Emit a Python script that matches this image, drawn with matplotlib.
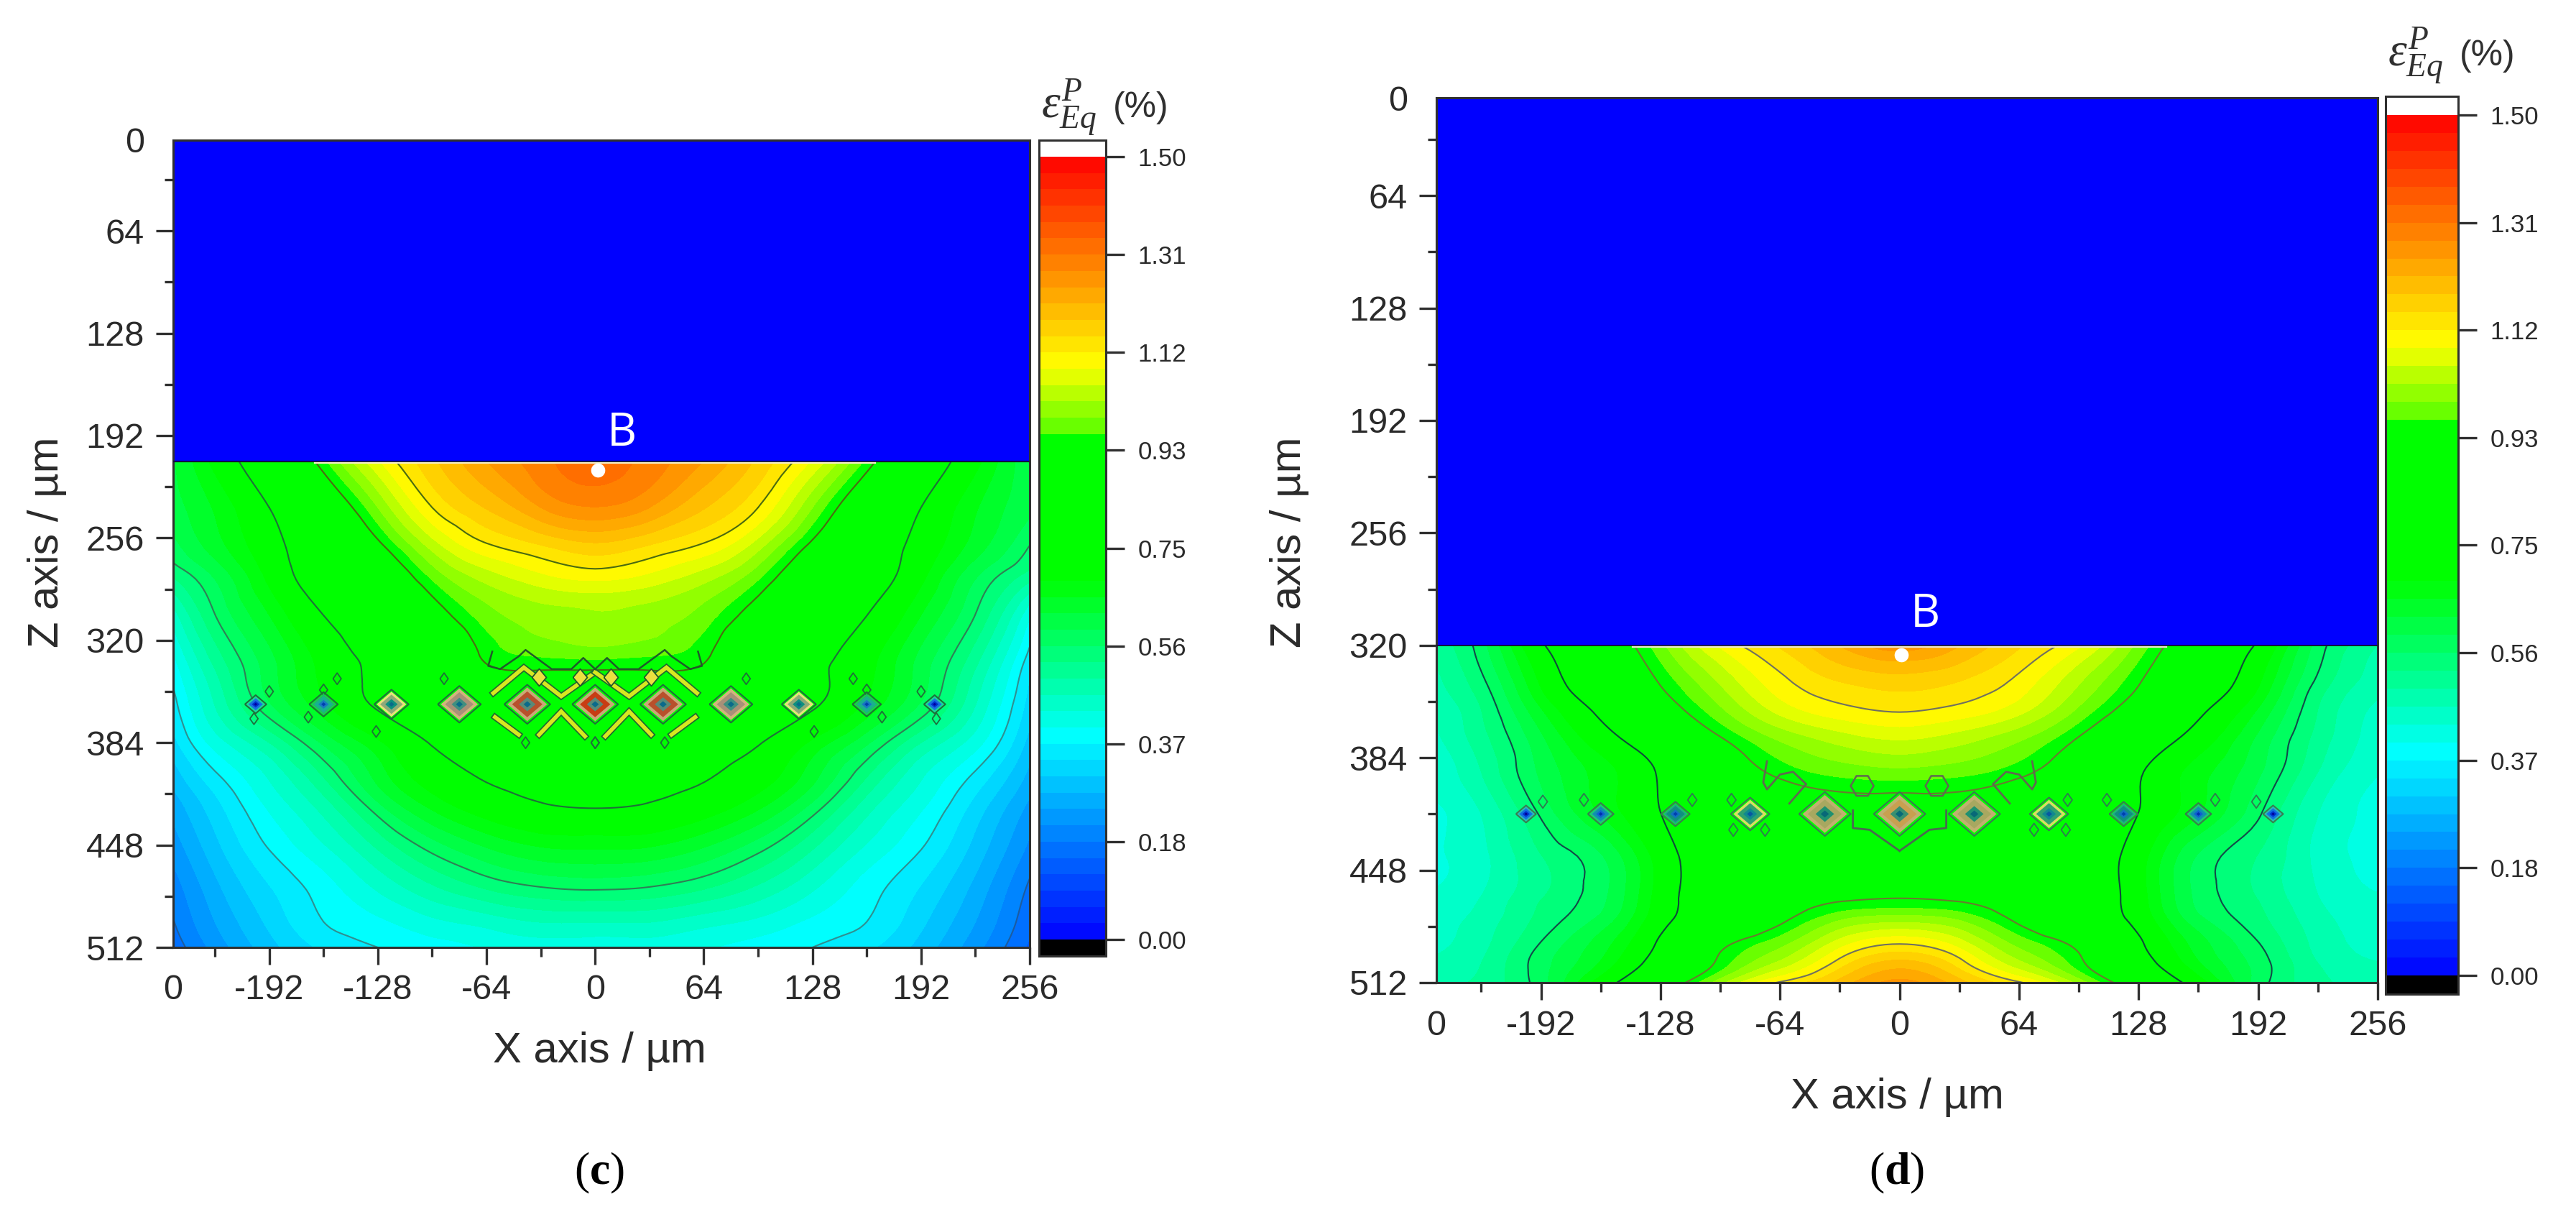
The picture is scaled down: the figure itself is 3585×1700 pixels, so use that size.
import numpy as np
import matplotlib
matplotlib.use("Agg")
import matplotlib.pyplot as plt
import matplotlib.tri as mtri
import matplotlib.patheffects as pe
from matplotlib.cm import ScalarMappable
from matplotlib.colors import BoundaryNorm, ListedColormap

plt.rcParams['font.family'] = ['Liberation Sans', 'DejaVu Sans']
plt.rcParams['mathtext.fontset'] = 'custom'
plt.rcParams['mathtext.rm'] = 'Liberation Serif'
plt.rcParams['mathtext.it'] = 'Liberation Serif:italic'
plt.rcParams['mathtext.bf'] = 'Liberation Serif:bold'

W, H = 3585, 1700
DPI = 100
PT = DPI / 72.0

# values, half profile, the field is mirror symmetric
x_cols = [0, 32, 64, 96, 128, 160, 192, 224, 256]

c_rows = [208, 237, 262, 279, 302, 327, 338, 360, 384, 406, 425, 451, 476, 496, 512]
c_field = [
    [1.33, 1.30, 1.25, 1.18, 1.09, 0.96, 0.82, 0.70, 0.60],
    [1.28, 1.25, 1.19, 1.125, 1.00, 0.87, 0.75, 0.66, 0.60],
    [1.175, 1.15, 1.115, 1.04, 0.92, 0.82, 0.72, 0.64, 0.56],
    [1.11, 1.09, 1.05, 0.98, 0.87, 0.80, 0.70, 0.60, 0.52],
    [1.03, 1.02, 0.99, 0.91, 0.82, 0.755, 0.66, 0.565, 0.42],
    [0.99, 0.98, 0.95, 0.85, 0.78, 0.71, 0.62, 0.52, 0.37],
    [0.94, 0.94, 0.93, 0.85, 0.77, 0.70, 0.61, 0.50, 0.35],
    [0.90, 0.89, 0.87, 0.82, 0.76, 0.68, 0.59, 0.47, 0.33],
    [0.88, 0.85, 0.80, 0.755, 0.68, 0.60, 0.50, 0.42, 0.30],
    [0.82, 0.79, 0.755, 0.71, 0.635, 0.53, 0.44, 0.365, 0.27],
    [0.75, 0.74, 0.71, 0.66, 0.58, 0.48, 0.41, 0.33, 0.24],
    [0.655, 0.65, 0.62, 0.57, 0.50, 0.43, 0.375, 0.30, 0.21],
    [0.5625, 0.555, 0.53, 0.49, 0.44, 0.39, 0.34, 0.27, 0.18],
    [0.47, 0.47, 0.45, 0.43, 0.40, 0.375, 0.32, 0.25, 0.165],
    [0.42, 0.42, 0.41, 0.39, 0.375, 0.35, 0.30, 0.23, 0.15],
]

d_rows = [320, 343, 358, 372, 392, 415, 440, 464, 475, 490, 501, 512]
d_field = [
    [1.27, 1.22, 1.16, 1.10, 0.99, 0.87, 0.74, 0.58, 0.50],
    [1.165, 1.15, 1.11, 1.03, 0.9375, 0.82, 0.69, 0.55, 0.48],
    [1.125, 1.11, 1.07, 0.99, 0.89, 0.765, 0.65, 0.53, 0.46],
    [1.07, 1.05, 1.01, 0.9375, 0.83, 0.72, 0.62, 0.52, 0.45],
    [0.99, 0.98, 0.95, 0.88, 0.76, 0.67, 0.60, 0.50, 0.44],
    [0.90, 0.90, 0.88, 0.85, 0.75, 0.66, 0.57, 0.47, 0.43],
    [0.88, 0.88, 0.87, 0.82, 0.71, 0.59, 0.53, 0.46, 0.43],
    [0.9375, 0.93, 0.90, 0.82, 0.71, 0.585, 0.53, 0.47, 0.44],
    [1.01, 0.99, 0.92, 0.83, 0.72, 0.60, 0.54, 0.48, 0.45],
    [1.125, 1.08, 0.99, 0.92, 0.765, 0.64, 0.565, 0.49, 0.46],
    [1.20, 1.14, 1.04, 0.95, 0.80, 0.66, 0.58, 0.50, 0.47],
    [1.26, 1.20, 1.13, 1.02, 0.87, 0.71, 0.58, 0.51, 0.48],
]

x_major = [-192, -128, -64, 0, 64, 128, 192, 256]
x_minor = [-224, -160, -96, -32, 32, 96, 160, 224]
x_labels = ['-192', '-128', '-64', '0', '64', '128', '192', '256']
z_major = [64, 128, 192, 256, 320, 384, 448, 512]
z_minor = [32, 96, 160, 224, 288, 352, 416, 480]
z_labels = ['64', '128', '192', '256', '320', '384', '448', '512']
cb_ticks = [0.0, 0.1875, 0.375, 0.5625, 0.75, 0.9375, 1.125, 1.3125, 1.5]
cb_labels = ['0.00', '0.18', '0.37', '0.56', '0.75', '0.93', '1.12', '1.31', '1.50']
line_levels = [0.1875, 0.375, 0.5625, 0.75, 0.9375, 1.125]

# diamonds along the row, index is |x|/40
dia_x = [0, 40, 80, 120, 160, 200]
c_dia_z = 360
c_dia_hw = [32, 32, 30, 24, 20, 15]
c_dia_ring = ['#c9a878', '#c9a878', '#d2b57c', '#e8e27a', '#1ec060', '#20d0a0']
c_dia_mid = ['#c83c14', '#b8502c', '#a89078', '#8fa878', '#18b090', '#1870e0']
c_dia_core = ['#5a8a78', '#5a8a78', '#3f8f80', '#0f8f80', '#1878c0', '#0030d0']
c_dia_dot = ['#0a6a8a', '#0a6a8a', '#0a6a8a', '#0a6a8a', '#0040b0', '#0000a0']
d_dia_z = 416
d_dia_hw = [36, 36, 27, 20, 18, 14]
d_dia_ring = ['#c0b070', '#c0b070', '#d8e060', '#20b080', '#20c080', '#30b0c0']
d_dia_mid = ['#c8a050', '#a8a860', '#30a070', '#109080', '#1090b0', '#1070e0']
d_dia_core = ['#3a9070', '#209070', '#108890', '#1070c0', '#1060d0', '#0030d0']
d_dia_dot = ['#086878', '#086878', '#0858a0', '#0040b0', '#0030b0', '#000090']

# zig-zag bits of the contour lines next to the diamonds (left half)
c_zig_x = [-60.6, -63, -56, -45, -41, -25.6, -14, -7, 0]
c_zig_z = [327, 336, 338, 330, 326, 338, 338, 331, 338]
c_upper_x = [-60, -42, -20, 0]
c_upper_z = [353, 337, 355, 340]
c_lower_x = [-45, -59]
c_lower_z = [379, 368]
c_lambda_x = [-33, -20, -6]
c_lambda_z = [379, 364.5, 380]
c_yel_x = [9, 33]
c_yel_z = [343, 343]
c_small_x = [192, 152, 160, 169, 129, 89, 0, 41, 201]
c_small_z = [352, 344, 351, 368, 377, 344, 384, 384, 369]

d_zig1_x = [-71, -73, -71, -64, -57, -50, -59]
d_zig1_z = [386, 398, 402, 393.5, 392, 399, 410]
d_zig2_x = [-25, -25, -16, 0]
d_zig2_z = [414, 424, 425, 437]
d_hex_x = [20]
d_hex_z = [400]
d_small_x = [191, 169, 111, 90, 72, 89]
d_small_z = [409, 408, 408, 408, 425, 425]


def make_cmap():
    # colour of each 1.5/48 band
    mids = (np.arange(48) + 0.5) * 1.5 / 48
    cols = []
    for v in mids:
        if v < 0.39:
            cols.append((0, v / 0.39, 1))
        elif v < 0.69:
            cols.append((0, 1, (0.69 - v) / 0.30))
        elif v < 0.96875:
            cols.append((0, 1, 0))
        elif v < 1.10:
            cols.append(((0.39 + 0.61 * (v - 0.98) / 0.12), 1, 0))
        else:
            cols.append((1, (1.5 - v) / 0.40, 0))
    cmap = ListedColormap(np.clip(cols, 0, 1))
    cmap.set_over('white')
    cmap.set_under('black')
    return cmap


cmap = make_cmap()
levels = np.linspace(0, 1.5, 49)


def rect(left, top, right, bottom):
    return [left / W, 1 - bottom / H, (right - left) / W, (bottom - top) / H]


def diamond(r=0.85):
    return [(-1, 0), (0, r), (1, 0), (0, -r), (-1, 0)]


def px_s(hw):
    return (2 * hw / PT) ** 2


def mirror(x):
    x = np.asarray(x, dtype=float)
    return np.concatenate([-x, x])


def draw_field(ax, rows, field, line_cols):
    xs = np.array(x_cols, dtype=float)
    xx = np.concatenate([-xs[::-1], xs[1:]])
    vals = np.array(field, dtype=float)
    vals = np.hstack([vals[:, ::-1], vals[:, 1:]])
    X, Z = np.meshgrid(xx, np.array(rows, dtype=float))
    tr = mtri.Triangulation(X.ravel(), Z.ravel())
    refiner = mtri.UniformTriRefiner(tr)
    tr2, v2 = refiner.refine_field(vals.ravel(), subdiv=3)
    ax.tricontourf(tr2, v2, levels=levels, cmap=cmap, norm=BoundaryNorm(levels, 48), extend='both', zorder=1)
    ax.tricontour(tr2, v2, levels=line_levels, colors=line_cols, linewidths=1.5, zorder=2)


def draw_diamonds(ax, z, hw, ring, mid, core, dot, edge):
    xs = np.array(dia_x, dtype=float)
    xx = np.concatenate([-xs[::-1], xs[1:]])
    idx = np.abs(xx / 40).astype(int)
    hw = np.array(hw, dtype=float)[idx]
    zz = np.full(len(xx), z)
    ax.scatter(xx, zz, s=px_s(hw), marker=diamond(), facecolors='none', edgecolors=edge, linewidths=1.5, zorder=5)
    for cols, f in [(ring, 0.86), (mid, 0.66), (core, 0.36), (dot, 0.16)]:
        ax.scatter(xx, zz, s=px_s(hw * f), marker=diamond(), c=[cols[i] for i in idx], linewidths=0, zorder=5)


def stripe(ax, x, z):
    # yellow strip with a dark contour along both sides
    for sx in (1, -1):
        ax.plot(sx * np.array(x), z, color='#d8e820', lw=4.0, zorder=3, solid_joinstyle='miter',
                path_effects=[pe.Stroke(linewidth=6.5, foreground='#1f6a30'), pe.Normal()])


def style_axes(ax, fs=35):
    ax.set_facecolor('#0000ff')
    for s in ax.spines.values():
        s.set_linewidth(2.2)
        s.set_color('#303030')
    xl = ax.get_xlim()[0]
    zt = ax.get_ylim()[1]
    ax.set_xticks(x_minor, minor=True)
    ax.set_yticks(z_minor, minor=True)
    ax.set_xticks([xl] + x_major, ['0'] + x_labels)
    ax.set_yticks([zt] + z_major, ['0'] + z_labels)
    ax.tick_params(which='major', length=17, width=2.4, color='#303030', labelsize=fs, labelcolor='#2a2a2a')
    ax.tick_params(axis='x', which='major', pad=10)
    ax.tick_params(axis='y', which='major', pad=12)
    ax.tick_params(which='minor', length=9, width=2.4, color='#303030')
    ax.xaxis.get_major_ticks()[0].tick1line.set_visible(False)
    ax.yaxis.get_major_ticks()[0].tick1line.set_visible(False)


def colour_bar(fig, left, top, right, bottom, tick_hi, tick_lo, title_x, title_y):
    cax = fig.add_axes(rect(left, top, right, bottom))
    frac = (tick_hi - top) / float(tick_lo - tick_hi)
    cb = fig.colorbar(ScalarMappable(norm=BoundaryNorm(levels, 48), cmap=cmap), cax=cax, extend='both',
                      extendrect=True, extendfrac=frac, spacing='proportional')
    cb.set_ticks(cb_ticks, labels=cb_labels)
    cb.minorticks_off()
    cb.outline.set_linewidth(2.2)
    cb.outline.set_edgecolor('#303030')
    cax.tick_params(length=19, width=2.4, color='#303030', labelsize=25, labelcolor='#2a2a2a', pad=13)
    fig.text(title_x / W, 1 - title_y / H, r'$\varepsilon_{Eq}^{P}$', fontsize=47, color='#303030',
             family='Liberation Serif', ha='left', va='center')
    fig.text((title_x + 100) / W, 1 - title_y / H, '(%)', fontsize=36, color='#303030', ha='left', va='center')


fig = plt.figure(figsize=(W / DPI, H / DPI), dpi=DPI, facecolor='white')

# panel c
ax_c = fig.add_axes(rect(241, 195, 1433, 1318))
ax_c.set_xlim(-248.6, 256)
ax_c.set_ylim(512, 7.3)
draw_field(ax_c, c_rows, c_field, ['#1c5ca0', '#2f8f90', '#2f7f55', '#1f6f3a', '#4c6a12', '#4a6a10'])
stripe(ax_c, c_upper_x, c_upper_z)
stripe(ax_c, c_lower_x, c_lower_z)
stripe(ax_c, c_lambda_x, c_lambda_z)
ax_c.plot(c_zig_x, c_zig_z, color='#1f5a2a', lw=1.8, zorder=4)
ax_c.plot(-np.array(c_zig_x), c_zig_z, color='#1f5a2a', lw=1.8, zorder=4)
ax_c.scatter(mirror(c_yel_x), c_yel_z + c_yel_z, s=px_s(12), marker=diamond(1.2), c='#ece040',
             edgecolors='#1f5a2a', linewidths=1.3, zorder=4)
ax_c.scatter(mirror(c_small_x), c_small_z + c_small_z, s=px_s(8), marker=diamond(1.4),
             facecolors='none', edgecolors='#1f6f3a', linewidths=1.3, zorder=4)
draw_diamonds(ax_c, c_dia_z, c_dia_hw, c_dia_ring, c_dia_mid, c_dia_core, c_dia_dot, '#1f6f3a')
ax_c.axhline(208, color='#101040', lw=1.6, zorder=6)
ax_c.plot([-165, 165], [209.3, 209.3], color='#f6f0c8', lw=1.6, zorder=6)
ax_c.scatter([1.7], [213.5], s=200, c='white', linewidths=0, zorder=7)
ax_c.text(15.6, 190.6, 'B', color='white', fontsize=46, family='Open Sans', ha='center', va='center', zorder=7)
style_axes(ax_c)
colour_bar(fig, 1446, 195, 1539, 1330, 218, 1305, 1449, 150)
fig.text(66 / W, 1 - 754 / H, 'Z axis / µm', fontsize=43, color='#2a2a2a', rotation=90, ha='center', va='center')
fig.text(834 / W, 1 - 1463 / H, 'X axis / µm', fontsize=43, color='#2a2a2a', ha='center', va='center')
fig.text(834 / W, 1 - 1632 / H, r'($\mathbf{c}$)', fontsize=46, family='Liberation Serif', color='black', ha='center', va='center')

# panel d
ax_d = fig.add_axes(rect(1999, 136, 3309, 1367))
ax_d.set_xlim(-248, 256)
ax_d.set_ylim(512, 8.3)
draw_field(ax_d, d_rows, d_field, ['#104a50', '#104a50', '#124a48', '#0f4a3a', '#6a7a30', '#707060'])
for zx, zz, col in [(d_zig1_x, d_zig1_z, '#606a50'), (d_zig2_x, d_zig2_z, '#4a6a50')]:
    ax_d.plot(zx, zz, color=col, lw=2.0, zorder=4)
    ax_d.plot(-np.array(zx), zz, color=col, lw=2.0, zorder=4)
ax_d.scatter(mirror(d_hex_x), d_hex_z + d_hex_z, s=px_s(16), marker='H', facecolors='none', edgecolors='#5f6a50',
             linewidths=1.8, zorder=4)
ax_d.scatter(mirror(d_small_x), d_small_z + d_small_z, s=px_s(9), marker=diamond(1.4),
             facecolors='none', edgecolors='#2f7a50', linewidths=1.3, zorder=4)
draw_diamonds(ax_d, d_dia_z, d_dia_hw, d_dia_ring, d_dia_mid, d_dia_core, d_dia_dot, '#3a7a50')
ax_d.axhline(320, color='#101040', lw=1.4, zorder=6)
ax_d.plot([-143, 143], [321, 321], color='#f0e8d0', lw=1.6, zorder=6)
ax_d.scatter([0.8], [325.4], s=200, c='white', linewidths=0, zorder=7)
ax_d.text(13.9, 302.5, 'B', color='white', fontsize=46, family='Open Sans', ha='center', va='center', zorder=7)
style_axes(ax_d)
colour_bar(fig, 3320, 134, 3421, 1383, 160, 1355, 3323, 78)
fig.text(1795 / W, 1 - 754 / H, 'Z axis / µm', fontsize=43, color='#2a2a2a', rotation=90, ha='center', va='center')
fig.text(2640 / W, 1 - 1527 / H, 'X axis / µm', fontsize=43, color='#2a2a2a', ha='center', va='center')
fig.text(2640 / W, 1 - 1632 / H, r'($\mathbf{d}$)', fontsize=46, family='Liberation Serif', color='black', ha='center', va='center')

fig.savefig('out.png', dpi=DPI, facecolor='white')
